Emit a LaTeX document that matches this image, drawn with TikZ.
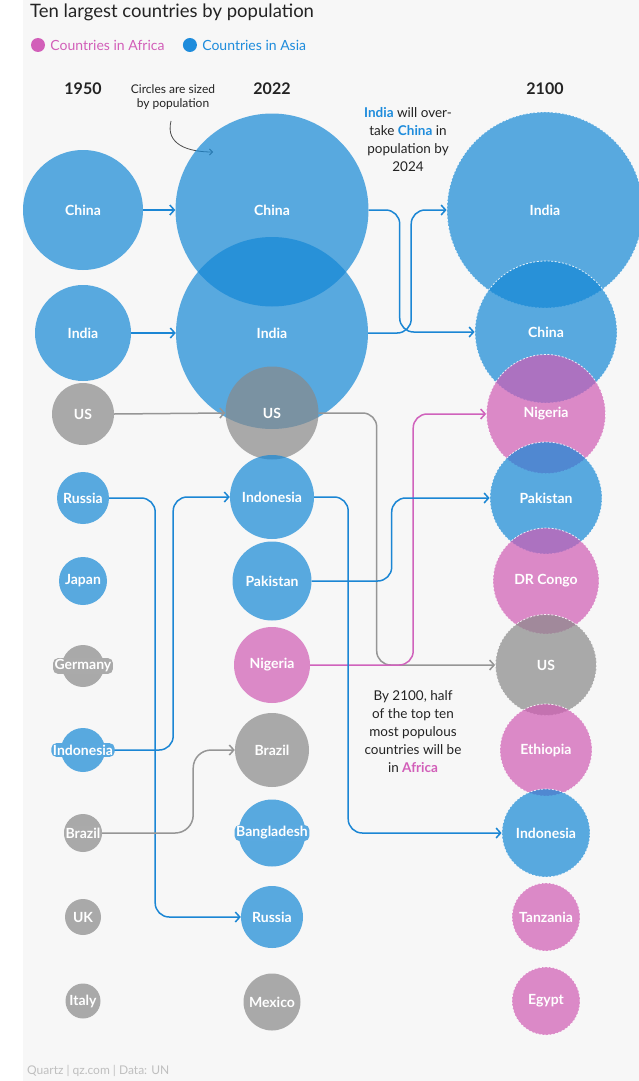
\documentclass[tikz,border=0pt]{standalone}
\usepackage{fontspec}
\setmainfont{Lato}
\usepackage{tikz}
\usetikzlibrary{positioning,arrows.meta}

\definecolor{panel}{RGB}{247,247,247}
\definecolor{asia}{RGB}{21,136,214}
\definecolor{africa}{RGB}{208,91,180}
\definecolor{other}{RGB}{137,137,137}
\definecolor{asialight}{RGB}{89,169,224}
\definecolor{otherlight}{RGB}{170,170,170}
\definecolor{asialine}{RGB}{27,134,212}
\definecolor{africaline}{RGB}{208,98,188}
\definecolor{otherline}{RGB}{150,150,150}
\definecolor{asiatext}{RGB}{30,140,220}
\definecolor{africatext}{RGB}{210,95,185}
\definecolor{ink}{RGB}{35,35,35}

\tikzset{
	ball/.style={circle,inner sep=0pt,fill opacity=0.7,text opacity=1,text=white,font=\bfseries\fontsize{14}{16}\selectfont},
	asiaball/.style={ball,fill=asia},
	africaball/.style={ball,fill=africa},
	otherball/.style={ball,fill=other},
	projected/.style={draw=white,draw opacity=0.85,line width=0.8pt,dash pattern=on 2pt off 1.6pt},
	tag/.style={rounded corners=5pt,inner sep=1.6pt,text=white,font=\bfseries\fontsize{14}{16}\selectfont},
	link/.style={line width=1.5pt,rounded corners=14pt,-{Straight Barb[length=4.5pt,width=10pt]}},
	year/.style={font=\bfseries\fontsize{16}{18}\selectfont,text=ink},
	remark/.style={align=center,text=ink,font=\fontsize{13.5}{18}\selectfont}
}

\begin{document}
\begin{tikzpicture}[x=1pt,y=-1pt]
\useasboundingbox (0,0) rectangle (639,1081);
\fill[panel] (23,0) rectangle (639,1081);

% header
\node[anchor=base west,inner sep=0pt,text=ink,font=\fontsize{18.5}{21}\selectfont] (title) at (30,18) {Ten largest countries by population};
\node[circle,fill=africatext,minimum size=14pt,inner sep=0pt] (afdot) at (38,45) {};
\node[right=5pt of afdot,inner sep=0pt,text=africatext,font=\fontsize{14}{16}\selectfont] (aflegend) {Countries in Africa};
\node[circle,fill=asiatext,minimum size=14pt,inner sep=0pt,right=18pt of aflegend] (asdot) {};
\node[right=5pt of asdot,inner sep=0pt,text=asiatext,font=\fontsize{14}{16}\selectfont] (aslegend) {Countries in Asia};

\node[year] (y1950) at (83,89) {1950};
\node[year] (y2022) at (272,89) {2022};
\node[year] (y2100) at (545,89) {2100};

% notes
\node[align=center,text=ink,font=\fontsize{12}{14}\selectfont] (sizenote) at (173,97) {Circles are sized\\by population};
\coordinate (sizetip) at (213,152);
\draw[ink!80,line width=0.8pt,-{Straight Barb[length=3pt,width=6pt]}] ([shift={(-2,8)}]sizenote.south) .. controls +(-6,24) and +(-24,0) .. (sizetip);
\node[remark] (overtake) at (408,140) {\textcolor{asiatext}{\bfseries India} will over-\\take \textcolor{asiatext}{\bfseries China} in\\population by\\2024};
\node[remark] (africanote) at (413,732) {By 2100, half\\of the top ten\\most populous\\countries will be\\in \textcolor{africatext}{\bfseries Africa}};

% 1950
\node[asiaball,minimum size=120pt] (chinaA) at (83,210) {China};
\node[asiaball,minimum size=96pt] (indiaA) at (83,333) {India};
\node[otherball,minimum size=62pt] (usA) at (83,414) {US};
\node[asiaball,minimum size=52pt] (russiaA) at (83,498) {Russia};
\node[asiaball,minimum size=48pt] (japanA) at (83,581) {Japan};
\node[otherball,minimum size=42pt] (germanyA) at (83,666) {};
\node[asiaball,minimum size=44pt] (indoA) at (83,750) {};
\node[otherball,minimum size=38pt] (brazilA) at (83,833) {};
\node[otherball,minimum size=36pt] (ukA) at (83,917) {UK};
\node[otherball,minimum size=35pt] (italyA) at (83,1001) {Italy};

% 2022
\node[asiaball,minimum size=193pt] (chinaB) at (272,210) {China};
\node[asiaball,minimum size=192pt] (indiaB) at (272,333) {India};
\node[otherball,minimum size=93pt] (usB) at (272,413) {US};
\node[asiaball,minimum size=84pt] (indoB) at (272,497) {Indonesia};
\node[asiaball,minimum size=79pt] (pakistanB) at (272,581) {Pakistan};
\node[africaball,minimum size=76pt] (nigeriaB) at (272,665) {Nigeria};
\node[otherball,minimum size=74pt] (brazilB) at (272,750) {Brazil};
\node[asiaball,minimum size=67pt] (bangladeshB) at (272,833) {};
\node[asiaball,minimum size=62pt] (russiaB) at (272,917) {Russia};
\node[otherball,minimum size=57pt] (mexicoB) at (272,1002) {Mexico};

% 2100
\node[asiaball,projected,minimum size=196pt] (indiaC) at (545,210) {India};
\node[asiaball,projected,minimum size=142pt] (chinaC) at (546,332) {China};
\node[africaball,projected,minimum size=119pt] (nigeriaC) at (546,414) {Nigeria};
\node[asiaball,projected,minimum size=112pt] (pakistanC) at (546,498) {Pakistan};
\node[africaball,projected,minimum size=106pt] (congoC) at (546,581) {DR Congo};
\node[otherball,projected,minimum size=101pt] (usC) at (546,665) {US};
\node[africaball,projected,minimum size=92pt] (ethiopiaC) at (546,750) {Ethiopia};
\node[asiaball,projected,minimum size=88pt] (indoC) at (546,833) {Indonesia};
\node[africaball,projected,minimum size=68pt] (tanzaniaC) at (546,917) {Tanzania};
\node[africaball,projected,minimum size=68pt] (egyptC) at (546,1001) {Egypt};

% 1950 -> 2022
\draw[link,asialine] (chinaA.east) -- (chinaB.west);
\draw[link,asialine] (indiaA.east) -- (indiaB.west);
\draw[link,otherline] (usA.east) -- (usB.west);
\draw[link,asialine] (russiaA.east) -- ++(46,0) |- (russiaB.west);
\draw[link,asialine] (indoA.east) -- ++(68,0) |- (indoB.west);
\draw[link,otherline,rounded corners=18pt] (brazilA.east) -- ++(91,0) |- (brazilB.west);

% 2022 -> 2100
\draw[link,asialine] (chinaB.east) -- ++(31,0) |- (chinaC.west);
\draw[link,asialine] (indiaB.east) -- ++(43,0) |- (indiaC.west);
\draw[link,otherline] (usB.east) -- ++(58,0) |- (usC.west);
\draw[link,africaline] (nigeriaB.east) -- ++(103,0) |- (nigeriaC.west);
\draw[link,asialine] (pakistanB.east) -- ++(80,0) |- (pakistanC.west);
\draw[link,asialine] (indoB.east) -- ++(34,0) |- (indoC.west);

% labels wider than their circles
\node[tag,fill=otherlight] (germanyAtag) at (germanyA) {Germany};
\node[tag,fill=asialight] (indoAtag) at (indoA) {Indonesia};
\node[tag,fill=otherlight] (brazilAtag) at (brazilA) {Brazil};
\node[tag,fill=asialight] (bangladeshBtag) at (bangladeshB) {Bangladesh};

\node[anchor=base west,inner sep=0pt,text=black!25,font=\fontsize{12}{14}\selectfont] (credit) at (27,1074) {Quartz | qz.com | Data: UN};
\end{tikzpicture}
\end{document}
